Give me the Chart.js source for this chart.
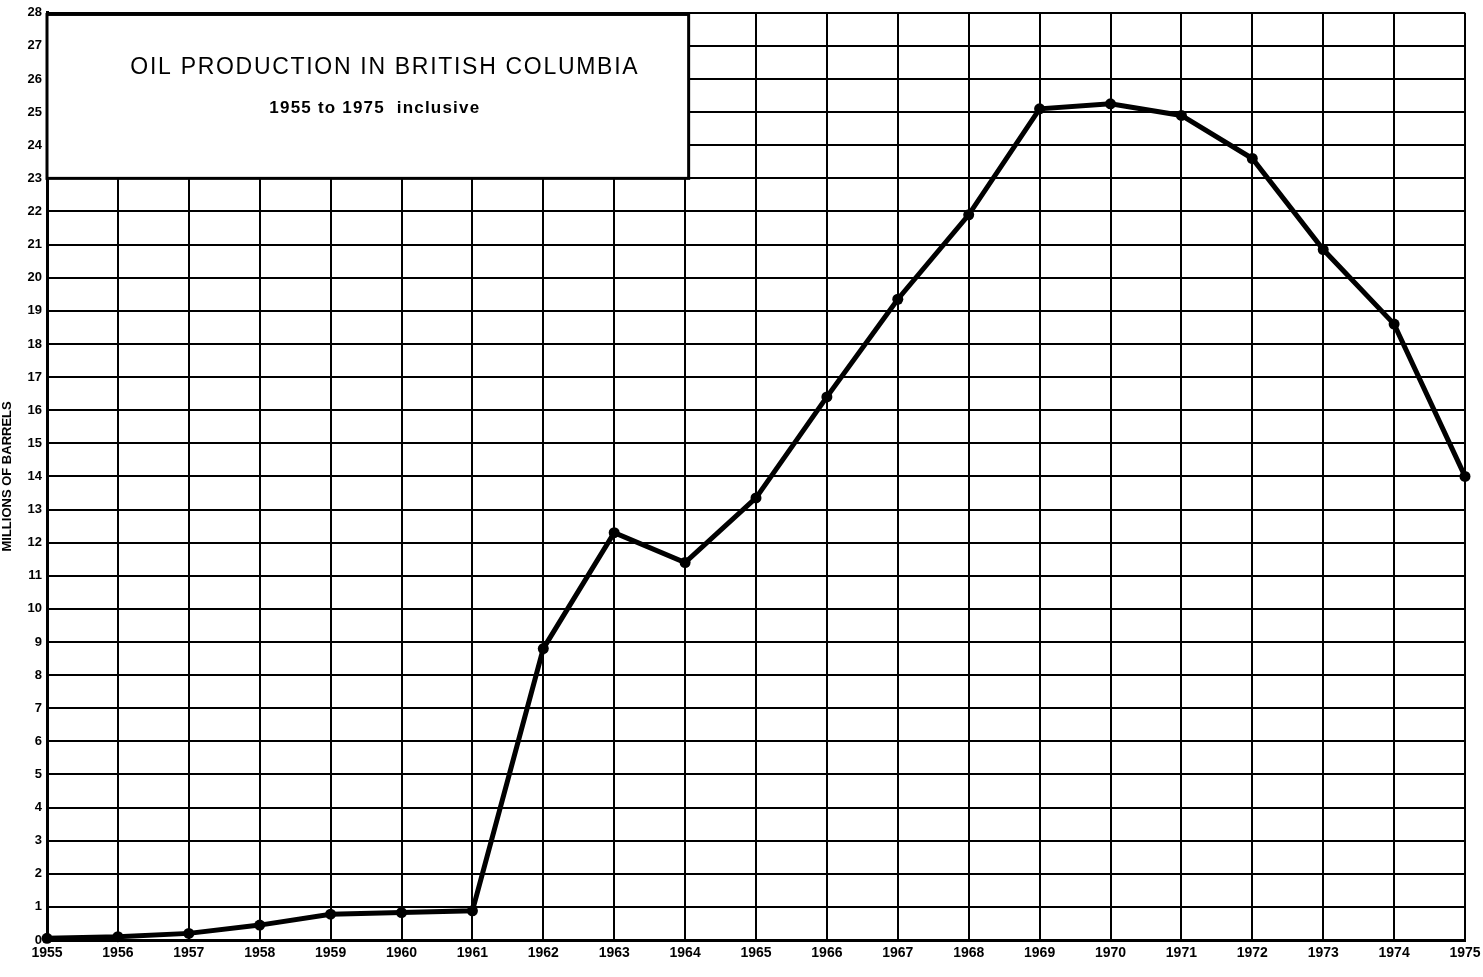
<!DOCTYPE html>
<html>
<head>
<meta charset="utf-8">
<title>Oil production in British Columbia</title>
<script src="https://cdn.jsdelivr.net/npm/chart.js@4.4.1/dist/chart.umd.min.js"></script>
<style>
  html, body { margin: 0; padding: 0; background: #fff; }
  #wrap { width: 1483px; height: 977px; position: relative; }
</style>
</head>
<body>
<div id="wrap"><canvas id="oilChart" width="1483" height="977"></canvas></div>
<script>
  // data (millions of barrels)
  const years = [1955, 1956, 1957, 1958, 1959, 1960, 1961, 1962, 1963, 1964, 1965,
    1966, 1967, 1968, 1969, 1970, 1971, 1972, 1973, 1974, 1975];
  const production = [0.05, 0.1, 0.2, 0.45, 0.78, 0.83, 0.88, 8.8, 12.3, 11.4, 13.35,
    16.4, 19.35, 21.9, 25.1, 25.25, 24.9, 23.6, 20.85, 18.6, 14.0];
  const titleText = 'OIL PRODUCTION IN BRITISH COLUMBIA';
  const subtitleText = '1955 to 1975  inclusive';
  const yAxisLabel = 'MILLIONS OF BARRELS';

  const tickFont = { family: '"Liberation Sans Narrow", "Liberation Sans", Arial, sans-serif', size: 14, weight: 'bold' };

  // white title panel sitting on top of the grid, top-left corner
  const titleBox = {
    id: 'titleBox',
    afterDatasetsDraw(chart) {
      const { ctx, scales } = chart;
      const x0 = scales.x.getPixelForValue(1955);
      const x1 = scales.x.getPixelForValue(1964.05);
      const y0 = scales.y.getPixelForValue(27.95);
      const y1 = scales.y.getPixelForValue(23);
      ctx.save();
      ctx.fillStyle = '#fff';
      ctx.fillRect(x0, y0, x1 - x0, y1 - y0);
      ctx.strokeStyle = '#000';
      ctx.lineWidth = 3;
      ctx.strokeRect(x0, y0, x1 - x0, y1 - y0);
      const cx = (x0 + x1) / 2;
      ctx.fillStyle = '#000';
      ctx.textAlign = 'center';
      ctx.textBaseline = 'middle';
      ctx.font = '500 23px "Liberation Sans", Arial, sans-serif';
      ctx.letterSpacing = '1.7px';
      ctx.fillText(titleText, cx + 17, y0 + 53);
      ctx.font = 'bold 17px "Liberation Sans", Arial, sans-serif';
      ctx.letterSpacing = '1.2px';
      ctx.fillText(subtitleText, cx + 7, y0 + 94);
      ctx.restore();
    }
  };

  new Chart(document.getElementById('oilChart'), {
    type: 'line',
    data: {
      datasets: [{
        data: years.map((yr, i) => ({ x: yr, y: production[i] })),
        borderColor: '#000',
        backgroundColor: '#000',
        borderWidth: 5,
        pointRadius: 5.5,
        pointBackgroundColor: '#000',
        pointBorderWidth: 0,
        tension: 0,
        clip: false,
      }],
    },
    options: {
      responsive: false,
      animation: false,
      layout: { padding: { top: 9, right: 18, left: 0, bottom: 0 } },
      plugins: { legend: { display: false }, tooltip: { enabled: false } },
      scales: {
        x: {
          type: 'linear',
          min: 1955,
          max: 1975,
          afterFit(scale) {
            scale.height = 37;
            // let the end labels overhang instead of shrinking the grid
            scale.paddingLeft = 0;
            scale.paddingRight = 0;
          },
          ticks: {
            stepSize: 1,
            autoSkip: false,
            maxRotation: 0,
            padding: 5,
            color: '#000',
            font: tickFont,
            callback: (v) => String(v),
          },
          grid: { color: '#000', lineWidth: 2, drawTicks: false },
          border: { color: '#000', width: 3 },
        },
        y: {
          min: 0,
          max: 28,
          afterFit(scale) { scale.width = 47; },
          ticks: {
            stepSize: 1,
            autoSkip: false,
            padding: 5,
            color: '#000',
            font: { family: tickFont.family, size: 13, weight: 'bold' },
          },
          title: {
            display: true,
            text: yAxisLabel,
            color: '#000',
            padding: { top: 0, bottom: 2 },
            font: { family: tickFont.family, size: 13, weight: 'bold' },
          },
          grid: { color: '#000', lineWidth: 2, drawTicks: false },
          border: { color: '#000', width: 3 },
        },
      },
    },
    plugins: [titleBox],
  });
</script>
</body>
</html>
